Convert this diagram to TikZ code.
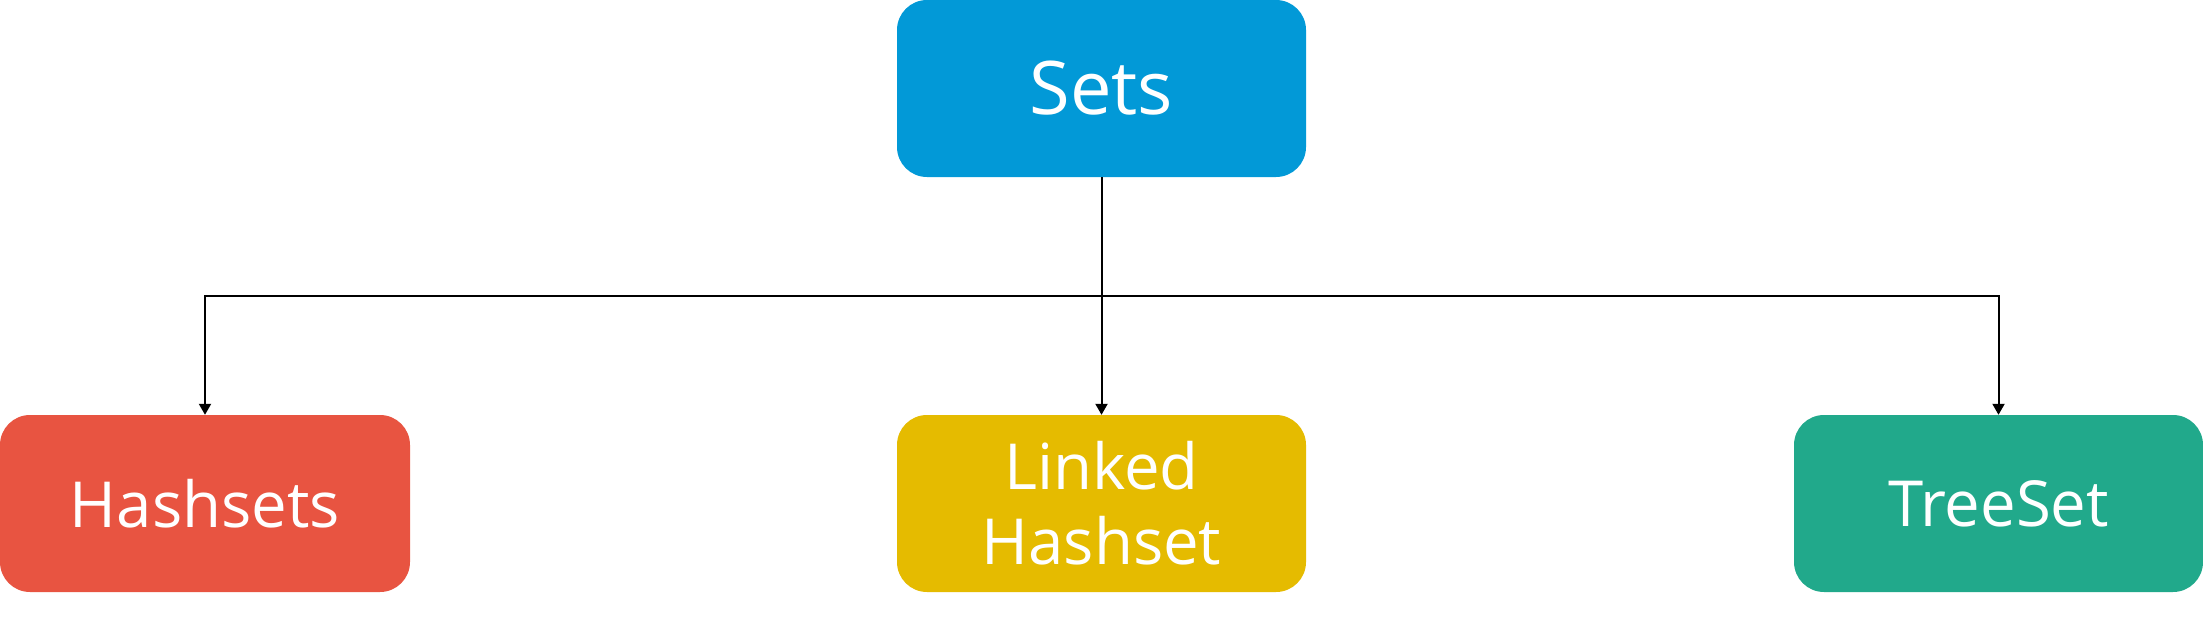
\documentclass[tikz,border=0pt]{standalone}
\usepackage{fontspec}
\setmainfont{Open Sans}
\usetikzlibrary{arrows.meta}
\definecolor{cblue}{HTML}{0299D7}
\definecolor{cred}{HTML}{E85441}
\definecolor{cyellow}{HTML}{E5BB00}
\definecolor{cgreen}{HTML}{21A98B}
\begin{document}
\begin{tikzpicture}[x=1pt,y=-1pt,
  box/.style={rounded corners=30pt, minimum width=409pt, minimum height=177pt,
    inner sep=0pt, text=white, align=center, draw=none},
  conn/.style={line width=2pt, -{Triangle[width=12pt,length=11pt]}}]
\useasboundingbox (0,0) rectangle (2203,616);
\node[box, fill=cblue, font=\fontsize{74}{84}\selectfont] (sets) at (1101.5,88.5) {Sets};
\node[box, fill=cred, minimum width=410pt, font=\fontsize{63.5}{75}\selectfont] (hash) at (205,503.5) {Hashsets};
\node[box, fill=cyellow, font=\fontsize{63.5}{75}\selectfont] (linked) at (1101.5,503.5) {Linked\\Hashset};
\node[box, fill=cgreen, font=\fontsize{63.5}{75}\selectfont] (tree) at (1998.5,503.5) {TreeSet};
\coordinate (mid) at (1101.5,296);
\draw[conn] (sets.south) -- (linked.north);
\draw[conn] (sets.south) -- (mid) -- (mid -| hash.north) -- (hash.north);
\draw[conn] (sets.south) -- (mid) -- (mid -| tree.north) -- (tree.north);
\end{tikzpicture}
\end{document}
